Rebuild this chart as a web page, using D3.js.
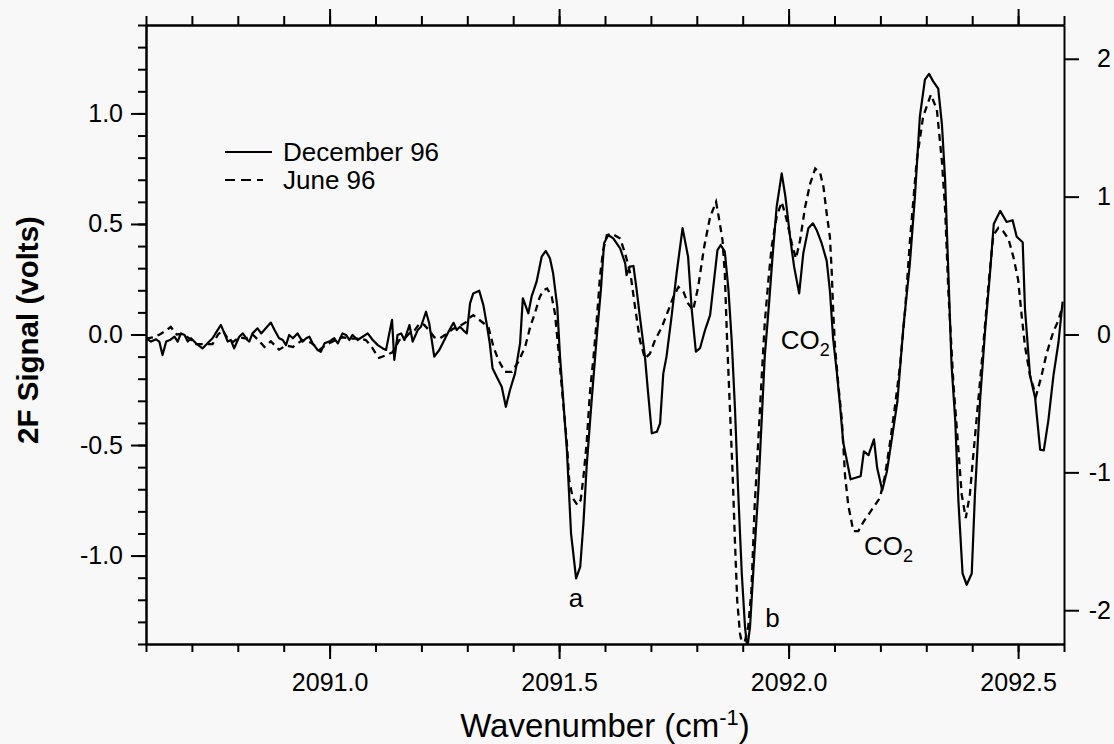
<!DOCTYPE html>
<html>
<head>
<meta charset="utf-8">
<script src="https://cdn.jsdelivr.net/npm/d3@7"></script>
<style>
  body { margin: 0; background: #f8f8f8; }
  svg { display: block; font-family: "Liberation Sans", Arial, Helvetica, sans-serif; }
  .axis path, .axis line { stroke: #000; stroke-width: 2; }
  .axis text { font-size: 25px; fill: #000; }
</style>
</head>
<body>
<svg id="chart" width="1114" height="744"></svg>
<script>
// December 96 scan (left axis, volts)
const decemberX = [
  2090.600, 2090.611, 2090.622, 2090.629, 2090.636, 2090.644, 2090.652, 2090.662, 2090.669, 2090.676,
  2090.684, 2090.691, 2090.698, 2090.709, 2090.723, 2090.734, 2090.745, 2090.756, 2090.763, 2090.771,
  2090.778, 2090.785, 2090.792, 2090.803, 2090.811, 2090.821, 2090.825, 2090.832, 2090.843, 2090.851,
  2090.861, 2090.872, 2090.880, 2090.890, 2090.898, 2090.905, 2090.912, 2090.920, 2090.930, 2090.941,
  2090.949, 2090.956, 2090.963, 2090.974, 2090.981, 2090.989, 2090.999, 2091.010, 2091.018, 2091.028,
  2091.036, 2091.043, 2091.050, 2091.061, 2091.072, 2091.083, 2091.094, 2091.105, 2091.116, 2091.123,
  2091.130, 2091.136, 2091.141, 2091.148, 2091.156, 2091.163, 2091.174, 2091.181, 2091.192, 2091.199,
  2091.210, 2091.217, 2091.228, 2091.239, 2091.250, 2091.261, 2091.270, 2091.277, 2091.284, 2091.291,
  2091.299, 2091.306, 2091.313, 2091.326, 2091.335, 2091.342, 2091.349, 2091.355, 2091.364, 2091.375,
  2091.384, 2091.393, 2091.404, 2091.415, 2091.421, 2091.433, 2091.440, 2091.451, 2091.462, 2091.471,
  2091.480, 2091.487, 2091.496, 2091.502, 2091.509, 2091.517, 2091.526, 2091.537, 2091.546, 2091.553,
  2091.560, 2091.571, 2091.582, 2091.591, 2091.598, 2091.607, 2091.618, 2091.633, 2091.644, 2091.647,
  2091.654, 2091.662, 2091.669, 2091.676, 2091.687, 2091.694, 2091.702, 2091.713, 2091.720, 2091.727,
  2091.734, 2091.745, 2091.756, 2091.769, 2091.781, 2091.789, 2091.798, 2091.807, 2091.818, 2091.829,
  2091.836, 2091.845, 2091.852, 2091.861, 2091.869, 2091.876, 2091.883, 2091.890, 2091.898, 2091.905,
  2091.910, 2091.916, 2091.925, 2091.934, 2091.941, 2091.948, 2091.958, 2091.965, 2091.974, 2091.985,
  2091.993, 2092.004, 2092.012, 2092.023, 2092.032, 2092.043, 2092.053, 2092.061, 2092.072, 2092.083,
  2092.090, 2092.097, 2092.105, 2092.112, 2092.119, 2092.127, 2092.135, 2092.157, 2092.164, 2092.174,
  2092.186, 2092.193, 2092.204, 2092.214, 2092.225, 2092.237, 2092.250, 2092.264, 2092.275, 2092.286,
  2092.297, 2092.306, 2092.315, 2092.326, 2092.334, 2092.341, 2092.348, 2092.355, 2092.363, 2092.370,
  2092.379, 2092.388, 2092.399, 2092.406, 2092.417, 2092.428, 2092.439, 2092.447, 2092.461, 2092.475,
  2092.488, 2092.497, 2092.510, 2092.515, 2092.526, 2092.537, 2092.548, 2092.556, 2092.566, 2092.577,
  2092.588, 2092.597
];
const decemberSignal = [
  -0.017, -0.032, -0.022, -0.032, -0.093, -0.032, -0.025, -0.010, -0.032, 0.005,
  -0.002, -0.032, -0.017, -0.040, -0.063, -0.040, -0.017, 0.020, 0.043, 0.005,
  -0.032, -0.025, -0.063, -0.010, 0.005, -0.025, -0.032, 0.005, 0.028, 0.005,
  0.028, 0.054, 0.020, -0.017, -0.025, -0.048, -0.002, -0.017, 0.005, -0.032,
  -0.017, -0.010, -0.040, -0.070, -0.078, -0.040, -0.032, -0.017, -0.040, 0.005,
  -0.002, -0.025, -0.002, -0.025, -0.010, 0.005, -0.025, -0.048, -0.063, -0.070,
  0.005, 0.066, -0.115, -0.002, 0.005, -0.025, 0.043, -0.032, 0.020, 0.035,
  0.103, 0.051, -0.100, -0.070, -0.025, 0.020, 0.053, 0.020, 0.035, 0.020,
  0.005, 0.141, 0.186, 0.198, 0.133, 0.051, -0.040, -0.153, -0.191, -0.236,
  -0.327, -0.251, -0.176, -0.040, 0.164, 0.096, 0.171, 0.239, 0.352, 0.378,
  0.345, 0.277, 0.126, -0.100, -0.296, -0.523, -0.900, -1.103, -1.051, -0.854,
  -0.598, -0.296, -0.010, 0.201, 0.413, 0.450, 0.435, 0.390, 0.322, 0.269,
  0.307, 0.310, 0.201, 0.081, -0.100, -0.266, -0.447, -0.440, -0.402, -0.176,
  -0.100, 0.081, 0.277, 0.481, 0.352, 0.111, -0.078, -0.062, 0.020, 0.088,
  0.216, 0.382, 0.405, 0.375, 0.201, -0.025, -0.327, -0.704, -1.081, -1.322,
  -1.420, -1.322, -1.005, -0.704, -0.402, -0.100, 0.156, 0.352, 0.578, 0.729,
  0.624, 0.428, 0.307, 0.186, 0.367, 0.481, 0.503, 0.473, 0.413, 0.333,
  0.199, -0.019, -0.169, -0.320, -0.487, -0.571, -0.655, -0.641, -0.529, -0.546,
  -0.474, -0.604, -0.705, -0.621, -0.471, -0.303, 0.032, 0.316, 0.618, 0.986,
  1.153, 1.179, 1.145, 1.112, 0.952, 0.701, 0.283, -0.136, -0.387, -0.755,
  -1.081, -1.132, -1.081, -0.722, -0.303, 0.015, 0.283, 0.500, 0.559, 0.509,
  0.517, 0.442, 0.417, 0.115, -0.186, -0.286, -0.521, -0.524, -0.387, -0.186,
  -0.035, 0.149
];

// June 96 scan (right axis)
const juneX = [
  2090.600, 2090.615, 2090.630, 2090.644, 2090.654, 2090.667, 2090.680, 2090.695, 2090.709, 2090.727,
  2090.745, 2090.757, 2090.767, 2090.778, 2090.789, 2090.803, 2090.818, 2090.832, 2090.845, 2090.858,
  2090.872, 2090.890, 2090.905, 2090.920, 2090.941, 2090.960, 2090.978, 2090.995, 2091.007, 2091.028,
  2091.050, 2091.065, 2091.079, 2091.092, 2091.101, 2091.108, 2091.123, 2091.137, 2091.152, 2091.163,
  2091.174, 2091.185, 2091.196, 2091.206, 2091.217, 2091.228, 2091.239, 2091.253, 2091.268, 2091.283,
  2091.297, 2091.302, 2091.313, 2091.346, 2091.357, 2091.368, 2091.382, 2091.397, 2091.411, 2091.426,
  2091.437, 2091.447, 2091.458, 2091.466, 2091.474, 2091.484, 2091.491, 2091.498, 2091.509, 2091.517,
  2091.522, 2091.530, 2091.540, 2091.547, 2091.553, 2091.560, 2091.567, 2091.575, 2091.582, 2091.589,
  2091.596, 2091.604, 2091.615, 2091.633, 2091.644, 2091.656, 2091.665, 2091.676, 2091.687, 2091.698,
  2091.709, 2091.724, 2091.738, 2091.749, 2091.760, 2091.771, 2091.781, 2091.792, 2091.803, 2091.816,
  2091.829, 2091.842, 2091.849, 2091.856, 2091.861, 2091.866, 2091.872, 2091.878, 2091.883, 2091.888,
  2091.894, 2091.901, 2091.912, 2091.919, 2091.926, 2091.934, 2091.941, 2091.948, 2091.956, 2091.963,
  2091.974, 2091.985, 2091.996, 2092.007, 2092.016, 2092.025, 2092.036, 2092.047, 2092.058, 2092.069,
  2092.076, 2092.083, 2092.090, 2092.094, 2092.097, 2092.101, 2092.108, 2092.116, 2092.123, 2092.130,
  2092.141, 2092.152, 2092.163, 2092.177, 2092.188, 2092.199, 2092.210, 2092.221, 2092.232, 2092.243,
  2092.254, 2092.264, 2092.279, 2092.293, 2092.310, 2092.323, 2092.334, 2092.341, 2092.348, 2092.359,
  2092.370, 2092.377, 2092.386, 2092.395, 2092.402, 2092.413, 2092.424, 2092.435, 2092.446, 2092.457,
  2092.468, 2092.479, 2092.490, 2092.500, 2092.508, 2092.515, 2092.526, 2092.539, 2092.551, 2092.562,
  2092.577, 2092.588, 2092.597
];
const juneSignal = [
  -0.030, -0.020, 0.000, 0.030, 0.055, 0.000, 0.005, -0.030, -0.070, -0.070,
  -0.070, 0.000, 0.030, -0.030, -0.055, -0.020, -0.030, 0.000, -0.040, -0.090,
  -0.050, -0.110, -0.080, -0.090, -0.040, -0.060, -0.110, -0.070, -0.050, -0.020,
  -0.030, -0.030, -0.040, -0.090, -0.140, -0.170, -0.150, -0.130, -0.040, -0.030,
  0.010, 0.030, 0.080, 0.070, 0.030, -0.020, -0.030, 0.000, 0.040, 0.060,
  0.090, 0.116, 0.140, 0.055, -0.090, -0.186, -0.271, -0.271, -0.199, -0.090,
  0.055, 0.152, 0.273, 0.321, 0.334, 0.273, 0.152, -0.090, -0.500, -0.790,
  -1.057, -1.189, -1.238, -1.202, -1.033, -0.790, -0.428, -0.162, 0.104, 0.418,
  0.611, 0.720, 0.732, 0.696, 0.587, 0.430, 0.210, -0.041, -0.174, -0.138,
  -0.041, 0.055, 0.176, 0.273, 0.345, 0.309, 0.225, 0.176, 0.345, 0.635,
  0.853, 0.962, 0.829, 0.684, 0.442, -0.041, -0.525, -1.008, -1.492, -1.927,
  -2.168, -2.280, -2.120, -1.854, -1.250, -0.767, -0.331, 0.080, 0.394, 0.635,
  0.853, 0.962, 0.829, 0.660, 0.551, 0.684, 0.925, 1.095, 1.204, 1.168,
  1.070, 0.877, 0.708, 0.452, 0.183, -0.085, -0.353, -0.621, -1.024, -1.238,
  -1.426, -1.426, -1.359, -1.292, -1.238, -1.184, -1.024, -0.782, -0.514, -0.219,
  0.183, 0.666, 1.257, 1.579, 1.740, 1.632, 1.257, 0.908, 0.318, -0.353,
  -0.836, -1.158, -1.332, -1.158, -0.890, -0.487, -0.085, 0.344, 0.720, 0.774,
  0.747, 0.693, 0.559, 0.398, 0.130, -0.085, -0.299, -0.447, -0.299, -0.139,
  0.022, 0.103, 0.210
];

const xMajorTicks = [2091.0, 2091.5, 2092.0, 2092.5];
const leftMajorTicks = [-1.0, -0.5, 0.0, 0.5, 1.0];
const rightMajorTicks = [-2, -1, 0, 1, 2];
const legendLabels = ["December 96", "June 96"];
const notes = [
  { label: "a", sub: "", x: 2091.537, y: -1.233, anchor: "middle" },
  { label: "b", sub: "", x: 2091.949, y: -1.324, anchor: "start" },
  { label: "CO", sub: "2", x: 2091.983, y: -0.066, anchor: "start" },
  { label: "CO", sub: "2", x: 2092.164, y: -0.998, anchor: "start" }
];

const margin = { top: 25, right: 50, bottom: 100, left: 146 },
      width = 918,
      height = 619;

const svg = d3.select("#chart");
const g = svg.append("g").attr("transform", `translate(${margin.left},${margin.top})`);

const x = d3.scaleLinear().domain([2090.6, 2092.6]).range([0, width]);
const yL = d3.scaleLinear().domain([-1.4, 1.4]).range([height, 0]);
const yR = d3.scaleLinear().domain([-2.245, 2.245]).range([height, 0]);

g.append("clipPath").attr("id", "plotClip")
  .append("rect").attr("x", 0).attr("y", 0).attr("width", width).attr("height", height);

const xMinor = d3.range(0, 21).map(i => 2090.6 + i * 0.1);
const yMinor = d3.range(0, 29).map(i => -1.4 + i * 0.1);

// bottom
g.append("g").attr("class", "axis").attr("transform", `translate(0,${height})`)
  .call(d3.axisBottom(x).tickValues(xMinor).tickSize(8).tickSizeOuter(0).tickFormat(""));
g.append("g").attr("class", "axis").attr("transform", `translate(0,${height})`)
  .call(d3.axisBottom(x).tickValues(xMajorTicks).tickSize(15).tickSizeOuter(0).tickPadding(14)
    .tickFormat(d => d.toFixed(1)));

// top
g.append("g").attr("class", "axis")
  .call(d3.axisTop(x).tickValues(xMinor).tickSize(9).tickSizeOuter(0).tickFormat(""));
g.append("g").attr("class", "axis")
  .call(d3.axisTop(x).tickValues(xMajorTicks).tickSize(16).tickSizeOuter(0).tickFormat(""));

// left
g.append("g").attr("class", "axis")
  .call(d3.axisLeft(yL).tickValues(yMinor).tickSize(8).tickSizeOuter(0).tickFormat(""));
g.append("g").attr("class", "axis")
  .call(d3.axisLeft(yL).tickValues(leftMajorTicks).tickSize(15).tickSizeOuter(0).tickPadding(8)
    .tickFormat(d => d.toFixed(1)));

// right
const rightAxis = g.append("g").attr("class", "axis").attr("transform", `translate(${width},0)`)
  .call(d3.axisRight(yR).tickValues(rightMajorTicks).tickSize(15).tickSizeOuter(0)
    .tickFormat(d => String(d)));
rightAxis.selectAll("text").attr("text-anchor", "end").attr("x", 47);

const line = (xs, ys, yScale) => d3.line()
  .x((d, i) => x(xs[i]))
  .y((d, i) => yScale(ys[i]))(xs);

const curves = g.append("g").attr("clip-path", "url(#plotClip)");

curves.append("path")
  .attr("d", line(juneX, juneSignal, yR))
  .attr("fill", "none")
  .attr("stroke", "#000")
  .attr("stroke-width", 2.3)
  .attr("stroke-dasharray", "7,5");

curves.append("path")
  .attr("d", line(decemberX, decemberSignal, yL))
  .attr("fill", "none")
  .attr("stroke", "#000")
  .attr("stroke-width", 2.2)
  .attr("stroke-linejoin", "round");

// legend
const legend = g.append("g").attr("transform", "translate(79,127)");
legendLabels.forEach((lab, i) => {
  legend.append("line")
    .attr("x1", 0).attr("x2", i === 0 ? 47 : 38)
    .attr("y1", i * 28).attr("y2", i * 28)
    .attr("stroke", "#000").attr("stroke-width", 2)
    .attr("stroke-dasharray", i === 0 ? null : "10,6");
  legend.append("text")
    .attr("x", 58).attr("y", i * 28 + 9)
    .style("font-size", "26px")
    .text(lab);
});

// annotations
notes.forEach(n => {
  const t = g.append("text")
    .attr("x", x(n.x)).attr("y", yL(n.y))
    .attr("text-anchor", n.anchor)
    .style("font-size", "26px")
    .text(n.label);
  if (n.sub) {
    t.append("tspan").attr("dy", 7).style("font-size", "18px").text(n.sub);
  }
});

// axis titles
const xTitle = svg.append("text")
  .attr("x", margin.left + width / 2)
  .attr("y", 737)
  .attr("text-anchor", "middle")
  .style("font-size", "33px")
  .text("Wavenumber (cm");
xTitle.append("tspan").attr("dy", -12).style("font-size", "22px").text("-1");
xTitle.append("tspan").attr("dy", 12).text(")");

svg.append("text")
  .attr("transform", "translate(38,330) rotate(-90)")
  .attr("text-anchor", "middle")
  .style("font-size", "29.5px")
  .style("font-weight", "bold")
  .text("2F Signal (volts)");
</script>
</body>
</html>
